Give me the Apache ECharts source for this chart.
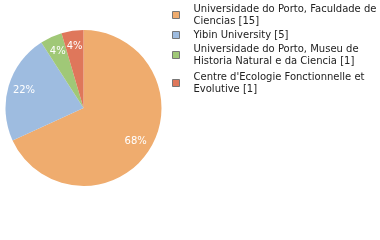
<!DOCTYPE html>
<html><head><meta charset="utf-8">
<script src="https://cdn.jsdelivr.net/npm/echarts@6/dist/echarts.min.js"></script>
<style>html,body{margin:0;padding:0;background:#fff}#c{width:380px;height:240px}</style>
</head><body><div id="c"></div>
<script>
const categories = ["Universidade do Porto, Faculdade de\nCiencias [15]","Yibin University [5]","Universidade do Porto, Museu de\nHistoria Natural e da Ciencia [1]","Centre d'Ecologie Fonctionnelle et\nEvolutive [1]"];
const values = [15,5,1,1];
const colors = ["#EFAC6E","#9EBCE0","#A0C877","#DF775B"];
const total = values.reduce((a,b)=>a+b,0);
const legendTops = [3,29,43,71];
const chart = echarts.init(document.getElementById('c'));
chart.setOption({
  animation:false,
  color:colors,
  legend:categories.map((n,i)=>({orient:'vertical',left:172,top:legendTops[i],padding:0,
    itemWidth:7,itemHeight:7,icon:'rect',selectedMode:false,
    itemStyle:{borderColor:'#777',borderWidth:1},
    textStyle:{fontFamily:'DejaVu Sans',fontSize:10,color:'#222',lineHeight:12,padding:[0,0,0,9]},
    data:[n]})),
  series:[{type:'pie',center:[83.5,108],radius:[0,78],startAngle:90,clockwise:true,
    label:{show:false},labelLine:{show:false},silent:true,
    data:categories.map((n,i)=>({name:n,value:values[i]}))},
  {type:'pie',center:[83.5,108],radius:[40,78],startAngle:90,clockwise:true,silent:true,
    itemStyle:{color:'rgba(0,0,0,0)'},
    label:{position:'inside',color:'#fff',fontFamily:'DejaVu Sans',fontSize:10,
      formatter:p=>Math.floor(p.value/total*100)+'%'},
    labelLine:{show:false},
    data:categories.map((n,i)=>({name:n,value:values[i]}))}]
});
</script></body></html>
